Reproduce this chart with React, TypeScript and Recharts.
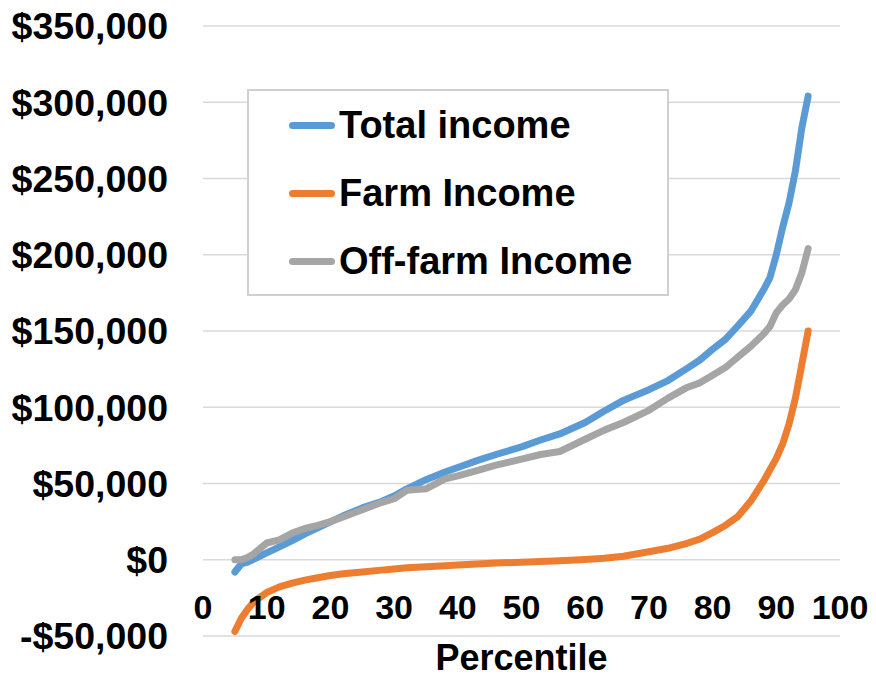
import { CartesianGrid, Legend, Line, LineChart, XAxis, YAxis } from 'recharts';

// percentile positions (5th to 95th)
const percentiles = [
  5, 6, 7, 8, 10, 12, 14, 16, 18, 20, 22, 25, 28, 30, 32, 35, 38, 40, 43, 46, 50, 53, 56, 60, 63, 66,
  70, 73, 76, 78, 80, 82, 84, 86, 88, 89, 90, 91, 92, 93, 94, 95,
];

const totalIncome = [
  -8000, -2800, -1500, 500, 4500, 8500, 12500, 17000, 21000, 24800, 28800, 34000, 38200, 41800,
  46500, 52500, 57500, 60500, 65000, 69000, 74000, 78500, 82500, 90000, 97500, 104500, 111500,
  117500, 125500, 131000, 138000, 144500, 153500, 163000, 177000, 185000, 200000, 218000, 234000,
  255000, 283000, 304000,
];

const farmIncome = [
  -47000, -38500, -32500, -27500, -21500, -17800, -15300, -13400, -11800, -10300, -9200, -8000,
  -6800, -6000, -5300, -4600, -3900, -3400, -2800, -2200, -1600, -1100, -600, 200, 1000, 2300, 5200,
  7500, 10800, 13500, 17800, 22500, 28500, 38500, 51500, 59000, 66500, 76000, 89000, 106000, 128000,
  150000,
];

const offFarmIncome = [
  0, 0, 1500, 4000, 11000, 13000, 17500, 20500, 22500, 25000, 28000, 32800, 37500, 40000, 45500,
  46500, 53000, 55000, 58500, 62000, 66000, 69000, 71000, 79000, 85000, 90000, 98000, 106000,
  113000, 116000, 121000, 126000, 133000, 140000, 148000, 153000, 162000, 167000, 171000, 177000,
  188000, 204000,
];

const xTicks = [0, 10, 20, 30, 40, 50, 60, 70, 80, 90, 100];
const yTicks = [-50000, 0, 50000, 100000, 150000, 200000, 250000, 300000, 350000];

const series = [
  { key: 'total', name: 'Total income', color: '#5B9BD5' },
  { key: 'farm', name: 'Farm Income', color: '#ED7D31' },
  { key: 'offFarm', name: 'Off-farm Income', color: '#A5A5A5' },
];

const data = percentiles.map((p, i) => ({
  p,
  total: totalIncome[i],
  farm: farmIncome[i],
  offFarm: offFarmIncome[i],
}));

const FONT = '"Liberation Sans", Arial, sans-serif';

function money(v: number): string {
  const s = '$' + Math.abs(v).toLocaleString('en-US');
  return v < 0 ? '-' + s : s;
}

function XTick(props: any) {
  const { x, y, payload } = props;
  return (
    <text
      x={x}
      y={y}
      dy={-19}
      textAnchor="middle"
      fontFamily={FONT}
      fontSize={34}
      fontWeight="bold"
      fill="#000"
    >
      {payload.value}
    </text>
  );
}

function LegendBox() {
  return (
    <div
      style={{
        boxSizing: 'border-box',
        width: 422,
        height: 207,
        border: '2px solid #D0D0D0',
        background: '#fff',
        paddingTop: 0,
        paddingLeft: 40,
        textAlign: 'left',
      }}
    >
      {series.map((s) => (
        <div key={s.key} style={{ display: 'flex', alignItems: 'center', height: 68 }}>
          <div style={{ width: 46, height: 7, borderRadius: 4, background: s.color, marginRight: 4 }} />
          <span style={{ fontFamily: FONT, fontSize: 38, fontWeight: 'bold', color: '#000' }}>
            {s.name}
          </span>
        </div>
      ))}
    </div>
  );
}

export default function App() {
  return (
    <div style={{ position: 'absolute', left: 0, top: 0, background: '#fff' }}>
      <LineChart
        width={876}
        height={678}
        data={data}
        margin={{ top: 26, right: 36, left: 0, bottom: 0 }}
      >
        <CartesianGrid vertical={false} stroke="#D9D9D9" strokeWidth={1.5} />
        <XAxis
          dataKey="p"
          type="number"
          domain={[0, 100]}
          ticks={xTicks}
          interval={0}
          height={42}
          axisLine={false}
          tickLine={false}
          tickSize={0}
          tick={<XTick />}
          label={{
            value: 'Percentile',
            position: 'insideBottom',
            offset: 8,
            fill: '#000',
            fontSize: 36,
            fontWeight: 'bold',
            fontFamily: FONT,
          }}
        />
        <YAxis
          type="number"
          domain={[-50000, 350000]}
          ticks={yTicks}
          interval={0}
          width={203}
          axisLine={false}
          tickLine={false}
          tickSize={0}
          tickMargin={35}
          tickFormatter={money}
          tick={{ fill: '#000', fontSize: 37.5, fontWeight: 'bold', fontFamily: FONT }}
        />
        <Legend
          layout="vertical"
          align="center"
          verticalAlign="middle"
          content={<LegendBox />}
          wrapperStyle={{ position: 'absolute', left: 247, top: 89, width: 422, height: 207 }}
        />
        {series.map((s) => (
          <Line
            key={s.key}
            dataKey={s.key}
            name={s.name}
            type="linear"
            stroke={s.color}
            strokeWidth={7}
            strokeLinecap="round"
            strokeLinejoin="round"
            dot={false}
            isAnimationActive={false}
          />
        ))}
      </LineChart>
    </div>
  );
}
